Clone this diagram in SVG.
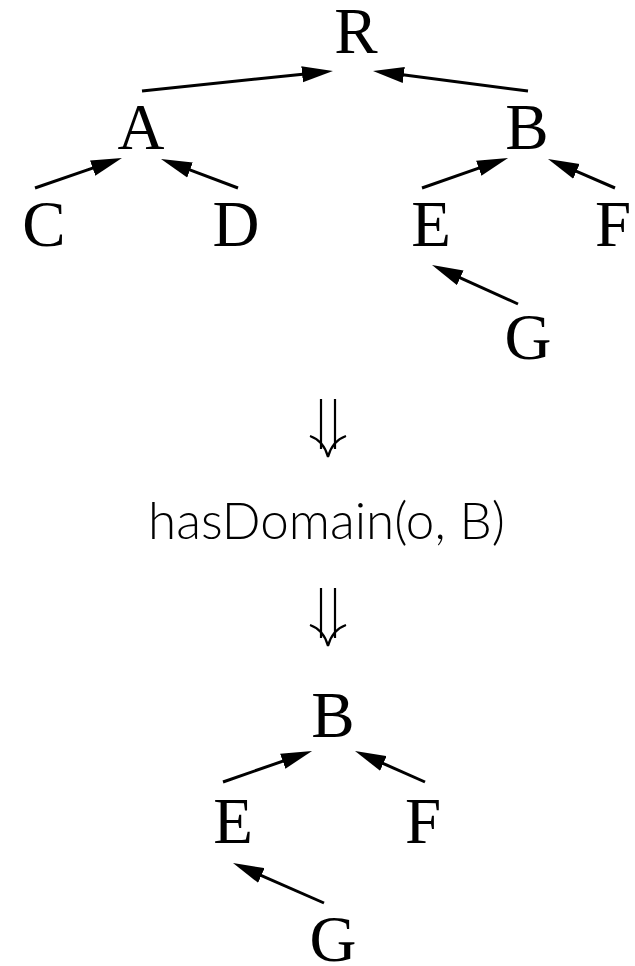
<svg xmlns="http://www.w3.org/2000/svg" width="635" height="966" viewBox="0 0 635 966">
  <style>
    .node { font-family: "Liberation Serif", "Times New Roman", serif; font-size: 65px; fill: #000; text-anchor: middle; }
    .edge { stroke: #000; stroke-width: 3; fill: none; marker-end: url(#head); }
    .label { font-family: Lato, "DejaVu Sans", sans-serif; font-weight: 300; font-size: 51px; fill: #000; }
    .imp { stroke: #000; stroke-width: 2.2; fill: none; stroke-linecap: butt; }
  </style>
  <defs>
    <marker id="head" markerUnits="userSpaceOnUse" markerWidth="32" markerHeight="17" refX="3" refY="8" orient="auto" viewBox="0 0 32 16">
      <path d="M0,0 L31,8 L0,16 z" fill="#000"/>
    </marker>
    <g id="downarrow">
      <line class="imp" x1="-7" y1="0" x2="-7" y2="50"/>
      <line class="imp" x1="7" y1="0" x2="7" y2="50"/>
      <path class="imp" d="M-18,37 Q-4,42 0,58 Q4,42 18,37"/>
    </g>
  </defs>

  <!-- upper hierarchy -->
  <g id="R"><text class="node" x="356" y="53">R</text></g>
  <g id="A"><text class="node" x="141" y="149">A</text></g>
  <g id="B"><text class="node" x="527" y="149">B</text></g>
  <g id="C"><text class="node" x="44" y="246">C</text></g>
  <g id="D"><text class="node" x="236" y="246">D</text></g>
  <g id="E"><text class="node" x="431" y="246">E</text></g>
  <g id="F"><text class="node" x="613" y="246">F</text></g>
  <g id="G"><text class="node" x="528" y="359">G</text></g>

  <!-- rule application -->
  <g id="step1"><use href="#downarrow" x="328" y="399"/></g>
  <g id="rule"><text class="label" x="148" y="539" textLength="357" lengthAdjust="spacingAndGlyphs">hasDomain(o, B)</text></g>
  <g id="step2"><use href="#downarrow" x="328" y="588"/></g>

  <!-- resulting hierarchy -->
  <g id="B2"><text class="node" x="333" y="737">B</text></g>
  <g id="E2"><text class="node" x="233" y="843">E</text></g>
  <g id="F2"><text class="node" x="423" y="843">F</text></g>
  <g id="G2"><text class="node" x="333" y="961">G</text></g>

  <g id="connectors">
    <line class="edge" x1="142" y1="91" x2="305.1" y2="73.9"/>
    <line class="edge" x1="528" y1="91" x2="400.8" y2="74.6"/>
    <line class="edge" x1="35" y1="188" x2="95.5" y2="167.1"/>
    <line class="edge" x1="238" y1="188" x2="187.2" y2="168.9"/>
    <line class="edge" x1="422" y1="188" x2="481.6" y2="167.2"/>
    <line class="edge" x1="615" y1="188" x2="573.7" y2="170.1"/>
    <line class="edge" x1="518" y1="304" x2="457.5" y2="276.6"/>
    <line class="edge" x1="223" y1="782" x2="285.6" y2="760.2"/>
    <line class="edge" x1="425" y1="782" x2="380.6" y2="762.3"/>
    <line class="edge" x1="324" y1="903" x2="258.6" y2="874.3"/>
  </g>
</svg>
